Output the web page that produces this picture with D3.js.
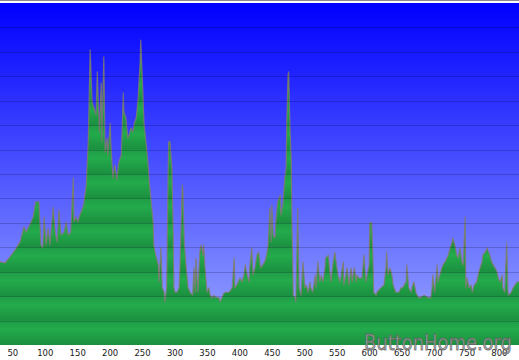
<!DOCTYPE html>
<html>
<head>
<meta charset="utf-8">
<script src="https://d3js.org/d3.v7.min.js"></script>
<style>
body{margin:0;background:#fff;}
</style>
</head>
<body>
<svg id="chart"></svg>
<script>
// profile data
var distance = [31,39,46,54,62,68,71,77,82,86,91,94,97,99,102,105,108,113,116,119,122,125,130,133,136,140,144,145,148,151,154,157,160,164,167,170,173,176,179,181,184,187,188,191,193,196,197,201,202,205,208,211,214,218,221,222,225,228,230,233,236,238,241,244,245,247,248,251,253,256,259,261,264,267,268,271,275,276,279,281,284,285,288,290,291,293,296,298,299,301,304,307,308,312,313,315,318,321,324,328,330,332,333,336,339,341,344,345,347,350,353,355,358,361,362,369,370,373,376,379,384,389,392,393,396,398,401,404,407,409,412,415,416,419,421,424,427,430,432,433,436,439,441,444,447,449,450,452,455,456,459,463,464,467,470,472,473,475,476,478,480,481,483,486,487,490,492,495,498,501,503,506,509,510,513,517,518,521,524,526,529,532,533,537,540,541,544,547,549,552,555,557,560,561,564,566,569,572,574,577,580,581,584,587,589,592,595,597,600,601,604,606,607,611,612,618,623,626,627,629,632,635,637,641,643,646,649,652,654,657,658,661,665,666,669,672,674,677,680,685,689,695,697,698,701,705,706,709,712,714,717,720,722,725,728,729,732,735,737,740,743,745,748,749,751,754,757,759,762,766,768,771,774,775,779,782,783,786,789,791,794,797,799,802,805,806,809,812,814,815,819,822,825,828,831];
var elevation = [170,168,180,194,211,242,231,246,262,293,293,205,199,262,205,239,205,282,231,211,276,225,231,252,225,231,342,252,262,252,266,276,287,328,416,604,497,485,471,559,436,536,416,590,395,424,389,454,409,342,368,338,373,389,516,477,465,424,430,444,436,454,465,506,532,579,624,526,454,416,375,334,293,252,205,184,164,129,199,117,108,88,117,342,416,416,362,225,117,108,108,117,143,328,313,211,158,117,108,102,158,108,178,108,190,205,184,205,158,108,117,102,96,102,98,96,88,96,106,108,108,117,178,117,123,129,137,129,143,164,143,129,158,199,143,158,184,190,164,158,164,170,178,199,280,211,287,225,219,250,293,307,266,287,342,362,454,553,559,444,375,250,102,96,88,280,117,102,170,117,123,108,129,117,108,143,117,170,129,143,129,158,178,184,143,129,164,190,170,143,129,143,170,123,143,158,123,158,129,158,129,143,137,137,137,184,129,143,164,250,250,170,108,102,108,117,123,158,190,143,158,143,123,108,108,108,117,117,123,129,164,117,108,117,129,108,102,96,98,102,98,96,117,143,108,164,129,143,158,164,170,178,184,199,211,219,205,184,178,199,170,164,262,117,137,117,123,108,123,129,143,158,170,184,190,199,194,184,170,164,158,150,137,129,143,117,108,209,108,102,108,117,123,129,129];
var tick_values = [50,100,150,200,250,300,350,400,450,500,550,600,650,700,750,800];
var watermark = "ButtonHome.org";

var width = 519, height = 360;
var margin_top = 3, plot_bottom = 345;

var data = distance.map(function(d, i){ return {d: d, e: elevation[i]}; });

var svg = d3.select("#chart")
    .attr("width", width)
    .attr("height", height);

var x = d3.scaleLinear().domain([31, 831]).range([0, width]);
var y = d3.scaleLinear().domain([0, 700]).range([plot_bottom, margin_top]);
var band_h = y(0) - y(50);

//Gradients

var defs = svg.append("defs");
var sky = defs.append("linearGradient")
    .attr("id", "sky")
    .attr("x1", 0).attr("y1", 0).attr("x2", 0).attr("y2", 1);
sky.append("stop").attr("offset", "0").attr("stop-color", "#0000ff");
sky.append("stop").attr("offset", "1").attr("stop-color", "#9ba9ff");

var band = defs.append("linearGradient")
    .attr("id", "band")
    .attr("x1", 0).attr("y1", 0).attr("x2", 0).attr("y2", 1);
band.append("stop").attr("offset", "0").attr("stop-color", "#1f9c46");
band.append("stop").attr("offset", "0.35").attr("stop-color", "#23ab4c");
band.append("stop").attr("offset", "1").attr("stop-color", "#1b8f3f");

defs.append("pattern")
    .attr("id", "green_bands")
    .attr("patternUnits", "userSpaceOnUse")
    .attr("x", 0)
    .attr("y", margin_top)
    .attr("width", width)
    .attr("height", band_h)
  .append("rect")
    .attr("width", width)
    .attr("height", band_h)
    .attr("fill", "url(#band)");

//Background

svg.append("rect")
    .attr("x", 0).attr("y", 0)
    .attr("width", width).attr("height", 1)
    .attr("fill", "#8a8a8a");
svg.append("rect")
    .attr("x", 0).attr("y", margin_top)
    .attr("width", width)
    .attr("height", plot_bottom - margin_top)
    .attr("fill", "url(#sky)");

//Area

var area = d3.area()
    .x(function(d){ return x(d.d); })
    .y0(y(0))
    .y1(function(d){ return y(d.e); });
var line = d3.line()
    .x(function(d){ return x(d.d); })
    .y(function(d){ return y(d.e); });

svg.append("path")
    .datum(data)
    .attr("d", area)
    .attr("fill", "url(#green_bands)");
svg.append("path")
    .datum(data)
    .attr("d", line)
    .attr("fill", "none")
    .attr("stroke", "#857a6c")
    .attr("stroke-opacity", 0.8)
    .attr("stroke-width", 1.2)
    .attr("stroke-linejoin", "round");

//Grid

svg.append("g")
    .selectAll("line")
    .data(y.ticks(14).filter(function(t){ return t > 0 && t < 700; }))
    .enter().append("line")
    .attr("x1", 0)
    .attr("x2", width)
    .attr("y1", function(d){ return Math.round(y(d)) + 0.5; })
    .attr("y2", function(d){ return Math.round(y(d)) + 0.5; })
    .attr("stroke", "#000020")
    .attr("stroke-opacity", 0.2)
    .attr("stroke-width", 1);

//Axis

var axis = svg.append("g")
    .attr("transform", "translate(0," + plot_bottom + ")")
    .call(d3.axisBottom(x).tickValues(tick_values).tickSize(0).tickPadding(5));
axis.select(".domain").remove();
axis.selectAll("text")
    .attr("font-family", "'DejaVu Sans', Verdana, sans-serif")
    .attr("font-size", "8.5px")
    .attr("fill", "#1a1a1a");

// Watermark

svg.append("text")
    .text(watermark)
    .attr("x", 364)
    .attr("y", 350)
    .attr("textLength", 148)
    .attr("lengthAdjust", "spacingAndGlyphs")
    .attr("font-family", "'DejaVu Sans', Verdana, sans-serif")
    .attr("font-size", "22px")
    .attr("fill", "#a3a3a3")
    .attr("fill-opacity", 0.85)
    .attr("stroke", "#5a5a5a")
    .attr("stroke-opacity", 0.75)
    .attr("stroke-width", 0.9);
</script>
</body>
</html>
